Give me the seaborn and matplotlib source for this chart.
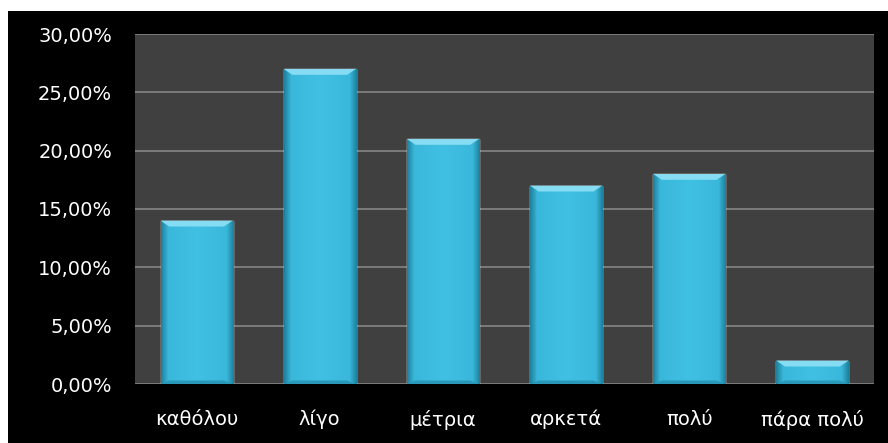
import numpy as np
import pandas as pd
import matplotlib
matplotlib.use("Agg")
import matplotlib.pyplot as plt
import seaborn as sns
from matplotlib.patches import Rectangle, Polygon
from matplotlib.colors import LinearSegmentedColormap
from matplotlib.ticker import FuncFormatter, MultipleLocator

# Response categories and their shares (%)
categories = ["καθόλου", "λίγο", "μέτρια", "αρκετά", "πολύ", "πάρα πολύ"]
shares = [14, 27, 21, 17, 18, 2]

df = pd.DataFrame({"category": categories, "share": shares})

sns.set_theme(style="dark")
plt.rcParams["font.family"] = ["DejaVu Sans"]

W, H = 888, 443
fig = plt.figure(figsize=(W / 100, H / 100), dpi=100)
fig.patch.set_facecolor("white")
# black chart frame
fig.add_artist(Rectangle((8 / W, 0), 1 - 8 / W, 1 - 11 / H, transform=fig.transFigure,
                         facecolor="black", edgecolor="none", zorder=0))

ax = fig.add_axes([135 / W, 1 - 384 / H, (874 - 135) / W, (384 - 34) / H])
ax.set_facecolor("#404040")

bar_color = "#3ebfe2"
sns.barplot(data=df, x="category", y="share", color=bar_color, width=0.585,
            saturation=1, ax=ax, zorder=3)

ax.set_ylim(0, 30)
ax.yaxis.set_major_locator(MultipleLocator(5))
ax.yaxis.set_major_formatter(FuncFormatter(lambda v, p: f"{v:.2f}".replace(".", ",") + "%"))
ax.grid(axis="y", color="#858585", linewidth=1.2, zorder=1)
ax.grid(axis="x", visible=False)
ax.set_axisbelow(True)
for s in ax.spines.values():
    s.set_visible(False)
ax.set_xlabel("")
ax.set_ylabel("")
ax.tick_params(axis="y", colors="white", labelsize=14, pad=16.5, length=0)
ax.tick_params(axis="x", colors="white", labelsize=14, pad=18.5, length=0)

# shading for each bar: darker edges, bevelled lighter top
shade = LinearSegmentedColormap.from_list(
    "shade", [(0, "#1e7f9c"), (0.1, "#3ab8db"), (0.5, "#40c0e3"), (0.9, "#3ab8db"), (1, "#1e7f9c")])
grad = np.linspace(0, 1, 256).reshape(1, -1)
for patch in ax.patches:
    x0, y0 = patch.get_x(), patch.get_y()
    w, h = patch.get_width(), patch.get_height()
    im = ax.imshow(grad, cmap=shade, aspect="auto", extent=(x0, x0 + w, y0, y0 + h),
                   zorder=4, interpolation="bilinear")
    im.set_clip_path(patch)
    bev = 0.5  # bevel depth in data units (%)
    dx = w * 0.12
    top = Polygon([(x0, y0 + h), (x0 + w, y0 + h), (x0 + w - dx, y0 + h - bev),
                   (x0 + dx, y0 + h - bev)], closed=True, facecolor="#86dcf2",
                  edgecolor="none", zorder=5)
    ax.add_patch(top)
    bot = Polygon([(x0, y0), (x0 + w, y0), (x0 + w - dx, y0 + bev * 0.6),
                   (x0 + dx, y0 + bev * 0.6)], closed=True, facecolor="#2a98b8",
                  edgecolor="none", zorder=5)
    ax.add_patch(bot)
ax.set_xlim(-0.5, len(categories) - 0.5)
ax.set_ylim(0, 30)

fig.savefig("out.png", dpi=100, facecolor=fig.get_facecolor())
